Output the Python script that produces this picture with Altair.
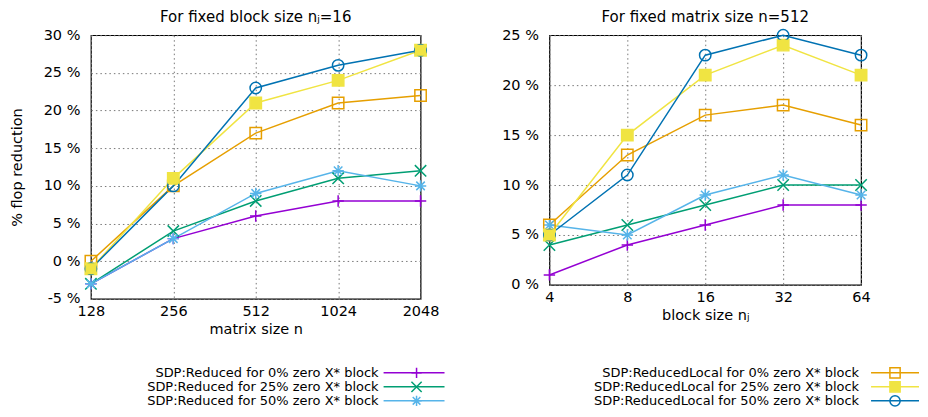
import altair as alt
import pandas as pd

FONT = "DejaVu Sans"

series = [
    "SDP:Reduced for 0% zero X* block",
    "SDP:Reduced for 25% zero X* block",
    "SDP:Reduced for 50% zero X* block",
    "SDP:ReducedLocal for 0% zero X* block",
    "SDP:ReducedLocal for 25% zero X* block",
    "SDP:ReducedLocal for 50% zero X* block",
]
colors = ["#9400d3", "#009e73", "#56b4e9", "#e69f00", "#f0e442", "#0072b2"]
PLUS = "M-1,0H1M0,-1V1"
CROSS = "M-1,-1L1,1M-1,1L1,-1"
STAR = "M-1,0H1M0,-1V1M-0.75,-0.75L0.75,0.75M-0.75,0.75L0.75,-0.75"
shapes = [PLUS, CROSS, STAR, "square", "square", "circle"]
filled_series = series[4]

# Left panel: fixed block size nj=16
matrix_sizes = [128, 256, 512, 1024, 2048]
left_reduced_0 = [-3, 3, 6, 8, 8]
left_reduced_25 = [-3, 4, 8, 11, 12]
left_reduced_50 = [-3, 3, 9, 12, 10]
left_local_0 = [0, 10, 17, 21, 22]
left_local_25 = [-1, 11, 21, 24, 28]
left_local_50 = [-1, 10, 23, 26, 28]

# Right panel: fixed matrix size n=512
block_sizes = [4, 8, 16, 32, 64]
right_reduced_0 = [1, 4, 6, 8, 8]
right_reduced_25 = [4, 6, 8, 10, 10]
right_reduced_50 = [6, 5, 9, 11, 9]
right_local_0 = [6, 13, 17, 18, 16]
right_local_25 = [5, 15, 21, 24, 21]
right_local_50 = [5, 11, 23, 25, 23]

left_values = [left_reduced_0, left_reduced_25, left_reduced_50,
               left_local_0, left_local_25, left_local_50]
right_values = [right_reduced_0, right_reduced_25, right_reduced_50,
                right_local_0, right_local_25, right_local_50]


def long_df(xs, values):
    rows = []
    for i, (s, vals) in enumerate(zip(series, values)):
        for x, v in zip(xs, vals):
            rows.append({"series": s, "order": i, "x": x, "y": v})
    return pd.DataFrame(rows)


left_df = long_df(matrix_sizes, left_values)
right_df = long_df(block_sizes, right_values)

color_scale = alt.Scale(domain=series, range=colors)
shape_scale = alt.Scale(domain=series, range=shapes)
color_enc = alt.Color("series:N", scale=color_scale, legend=None)
shape_enc = alt.Shape("series:N", scale=shape_scale, legend=None)

frame = alt.ViewBackground(stroke="black", strokeWidth=1.2)


def panel(df, xticks, xtitle, yticks, ytitle, w, h, title):
    x = alt.X("x:Q",
              scale=alt.Scale(type="log", base=2, domain=[xticks[0], xticks[-1]], nice=False),
              axis=alt.Axis(values=xticks, title=xtitle, format="d", labelPadding=6,
                            labelFlush=False, titlePadding=4))
    yaxis_kwargs = dict(values=yticks, labelExpr="datum.value + ' %'", labelPadding=11)
    if ytitle:
        yaxis_kwargs.update(title=ytitle, titlePadding=19)
    else:
        yaxis_kwargs.update(title=None)
    y = alt.Y("y:Q", scale=alt.Scale(domain=[yticks[0], yticks[-1]], nice=False),
              axis=alt.Axis(**yaxis_kwargs))
    base = alt.Chart(df)
    lines = base.mark_line(strokeWidth=1.5).encode(
        x=x, y=y, color=color_enc, detail="series:N", order="x:Q")
    pts = base.mark_point(filled=False, size=130, strokeWidth=1.5, opacity=1).encode(
        x=x, y=y, color=color_enc, shape=shape_enc)
    fill = base.transform_filter(alt.datum.series == filled_series).mark_point(
        filled=True, shape="square", size=125, opacity=1).encode(x=x, y=y, color=color_enc)
    return alt.layer(lines, pts, fill).properties(
        width=w, height=h, title=title, view=frame)


left = panel(left_df, matrix_sizes, "matrix size n", [-5, 0, 5, 10, 15, 20, 25, 30],
             "% flop reduction", 330, 264, "For fixed block size n\u2c7c=16")
right = panel(right_df, block_sizes, "block size n\u2c7c", [0, 5, 10, 15, 20, 25],
              None, 312, 250, "For fixed matrix size n=512")

legend_rows = [0, 1, 2, 0, 1, 2]
legend_groups = [0, 0, 0, 1, 1, 1]
leg_df = pd.DataFrame({"series": series, "row": legend_rows, "grp": legend_groups})


def legend(grp, w, text_x, x1, x2, mx):
    base = alt.Chart(leg_df).transform_filter(alt.datum.grp == grp)
    y = alt.Y("row:O", axis=None, scale=alt.Scale(type="point", padding=0.5))
    rule = base.mark_rule(strokeWidth=1.5).encode(
        x=alt.value(x1), x2=alt.value(x2), y=y, color=color_enc)
    pts = base.mark_point(filled=False, size=105, strokeWidth=1.5, opacity=1).encode(
        x=alt.value(mx), y=y, color=color_enc, shape=shape_enc)
    fill = base.transform_filter(alt.datum.series == filled_series).mark_point(
        filled=True, shape="square", size=100, opacity=1).encode(
        x=alt.value(mx), y=y, color=color_enc)
    text = base.mark_text(align="right", baseline="middle", font=FONT, fontSize=13,
                          color="black").encode(x=alt.value(text_x), y=y, text="series:N")
    return alt.layer(rule, pts, fill, text).properties(width=w, height=42)


legL = legend(0, 354, 288, 293, 354, 326)
legR = legend(1, 293, 233, 245, 293, 269)

top = alt.hconcat(left, right, spacing=129, bounds="flush")
bottom = alt.hconcat(legL, legR, spacing=182, bounds="flush")

chart = alt.vconcat(top, bottom, spacing=331, bounds="flush").properties(
    padding={"left": 0, "top": 0, "right": 0, "bottom": 0}
).configure_view(stroke=None).configure_axis(
    labelFont=FONT, labelFontSize=14.5, labelColor="black",
    titleFont=FONT, titleFontSize=14.5, titleFontWeight="normal", titleColor="black",
    domain=False, ticks=False, tickSize=0,
    grid=True, gridColor="#777777", gridDash=[1.5, 3], gridWidth=1,
).configure_title(
    font=FONT, fontSize=15, fontWeight="normal", color="black", offset=2
)

chart.save("out.html", embed_options={"renderer": "svg", "actions": False})
